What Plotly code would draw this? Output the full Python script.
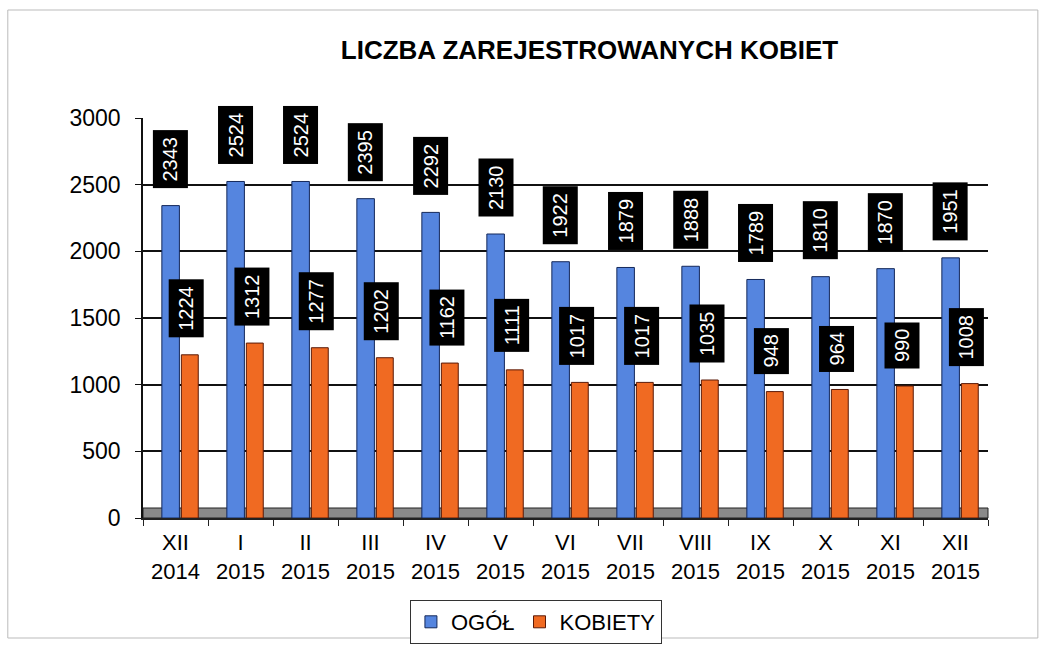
import plotly.graph_objects as go

categories = ["XII<br>2014", "I<br>2015", "II<br>2015", "III<br>2015", "IV<br>2015", "V<br>2015",
              "VI<br>2015", "VII<br>2015", "VIII<br>2015", "IX<br>2015", "X<br>2015", "XI<br>2015", "XII<br>2015"]
ogol = [2343, 2524, 2524, 2395, 2292, 2130, 1922, 1879, 1888, 1789, 1810, 1870, 1951]
kobiety = [1224, 1312, 1277, 1202, 1162, 1111, 1017, 1017, 1035, 948, 964, 990, 1008]
y_ticks = [0, 500, 1000, 1500, 2000, 2500, 3000]

FONT = "Liberation Sans, Arial, sans-serif"

fig = go.Figure()
fig.add_trace(go.Bar(x=categories, y=ogol, name="OGÓŁ", offset=-0.21, width=0.27,
                     marker=dict(color="#5585df", line=dict(color="#14285a", width=1))))
fig.add_trace(go.Bar(x=categories, y=kobiety, name="KOBIETY", offset=0.09, width=0.26,
                     marker=dict(color="#f06a22", line=dict(color="#5a1a08", width=1))))

annotations = []
for series, shift in ((ogol, -5), (kobiety, 11)):
    for c, v in zip(categories, series):
        annotations.append(dict(
            x=c, y=v, xref="x", yref="y", text=str(v), textangle=-90,
            showarrow=False, xshift=shift, yshift=17, yanchor="bottom",
            font=dict(family=FONT, size=20, color="white"),
            bgcolor="black", borderpad=6))

fig.update_layout(
    width=1049, height=647,
    margin=dict(l=143, r=61, t=118, b=129, autoexpand=False),
    paper_bgcolor="white", plot_bgcolor="white",
    barmode="overlay",
    title=dict(text="<b>LICZBA ZAREJESTROWANYCH KOBIET</b>", x=0.562, xanchor="center",
               y=1 - 50 / 647, yanchor="middle",
               font=dict(family=FONT, size=26, color="black")),
    font=dict(family=FONT, color="black"),
    xaxis=dict(tickfont=dict(size=22, color="black"), showline=True, linecolor="#222",
               linewidth=2, showgrid=False, ticks="outside", ticklen=6, tickcolor="#222",
               tickson="boundaries", automargin=False, ticklabelstandoff=4),
    yaxis=dict(range=[0, 3000], tickvals=y_ticks, tickfont=dict(size=23, color="black"),
               showgrid=True, gridcolor="#111", gridwidth=1.5, showline=True, linecolor="#111",
               linewidth=1.5, ticks="outside", ticklen=6, tickcolor="#111", zeroline=False,
               ticklabelstandoff=10, automargin=False),
    legend=dict(orientation="h", x=0.465, xanchor="center", y=-0.205, yanchor="top",
                bordercolor="#333", borderwidth=1, font=dict(size=22, color="black"),
                itemwidth=30, traceorder="normal", tracegroupgap=0),
    annotations=annotations,
    shapes=[
        dict(type="rect", xref="paper", yref="paper", x0=0, x1=1, y0=0, y1=0.025,
             fillcolor="#8a8a8a", line=dict(color="#222", width=1), layer="below"),
        dict(type="rect", xref="paper", yref="paper", x0=-0.160, x1=1.059,
             y0=-0.30, y1=1.27, line=dict(color="#bbbbbb", width=1)),
    ],
)

fig.write_html("out.html", post_script="document.body.style.margin='0';",
               config={"displayModeBar": False})
